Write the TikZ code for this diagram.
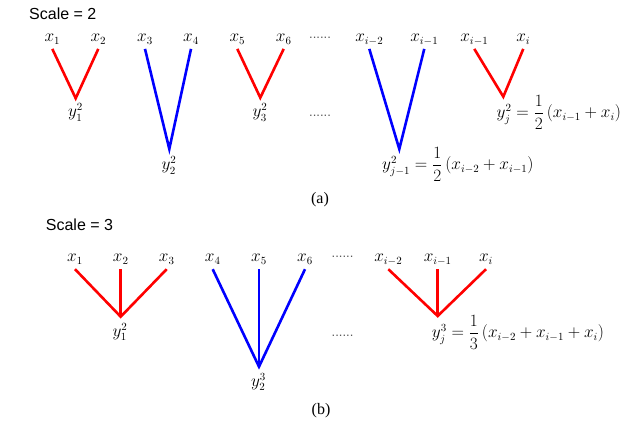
\documentclass[tikz,border=0pt]{standalone}
\usepackage{amsmath}
\usepackage{fontspec}
\setsansfont{Liberation Sans}
\newfontfamily\capfont{Liberation Serif}
\definecolor{lred}{RGB}{255,0,0}
\definecolor{lblue}{RGB}{0,0,255}
\definecolor{dotgray}{RGB}{90,90,90}
\begin{document}
\begin{tikzpicture}[x=1pt,y=-1pt,
  lab/.style={font=\fontsize{16}{19}\selectfont, inner sep=0pt, anchor=base},
  xl/.style={lab, text depth=7pt},
  yl/.style={lab},
  eql/.style={lab, anchor=base west},
  titl/.style={font=\sffamily\fontsize{16}{19}\selectfont, inner sep=0pt, anchor=base west},
  capl/.style={font=\capfont\fontsize{16}{19}\selectfont, inner sep=0pt, anchor=base},
  dotsl/.style={font=\sffamily\fontsize{13}{15}\selectfont, text=dotgray, inner sep=0pt, anchor=base west},
  redl/.style={draw=lred, line width=2.6pt},
  bluel/.style={draw=lblue, line width=2.6pt}]
\useasboundingbox[fill=white] (0,0) rectangle (633,427);

% ---------- (a) Scale = 2 ----------
\node[titl] (t1) at (29,19.3) {Scale\;=\;2};

\node[xl] (a1) at (52.3,41.7) {$x_1$};
\node[xl] (a2) at (98.3,41.7) {$x_2$};
\coordinate (va1) at (75.7,98.3);
\draw[redl] (a1.south) -- (va1) -- (a2.south);
\node[yl] (ya1) at (75.5,117) {$y_1^2$};

\node[xl] (a3) at (145,41.7) {$x_3$};
\node[xl] (a4) at (191,41.7) {$x_4$};
\coordinate (va2) at (169.3,149);
\draw[bluel] (a3.south) -- (va2) -- (a4.south);
\node[yl] (ya2) at (169,170) {$y_2^2$};

\node[xl] (a5) at (237.3,41.7) {$x_5$};
\node[xl] (a6) at (283.7,41.7) {$x_6$};
\coordinate (va3) at (260.3,97.7);
\draw[redl] (a5.south) -- (va3) -- (a6.south);
\node[yl] (ya3) at (260,117) {$y_3^2$};

\node[dotsl] (d1) at (309,39) {......};
\node[dotsl] (d2) at (309,117) {......};

\node[xl] (a7) at (369.3,41.7) {$x_{i-2}$};
\node[xl] (a8) at (424.3,41.7) {$x_{i-1}$};
\coordinate (va4) at (399.3,149);
\draw[bluel] (a7.south) -- (va4) -- (a8.south);
\node[eql] (ya4) at (382,170) {$y_{j-1}^2=\dfrac{1}{2}\,(x_{i-2}+x_{i-1})$};

\node[xl] (a9) at (474.3,41.7) {$x_{i-1}$};
\node[xl] (a10) at (523.3,41.7) {$x_i$};
\coordinate (va5) at (503.3,96.7);
\draw[redl] (a9.south) -- (va5) -- (a10.south);
\node[eql] (ya5) at (496.5,118) {$y_j^2=\dfrac{1}{2}\,(x_{i-1}+x_i)$};

\node[capl] (capa) at (320,204) {(a)};

% ---------- (b) Scale = 3 ----------
\node[titl] (t2) at (45.7,230.7) {Scale\;=\;3};

\node[xl] (b1) at (75,262) {$x_1$};
\node[xl] (b2) at (120.7,262) {$x_2$};
\node[xl] (b3) at (166.7,262) {$x_3$};
\coordinate (vb1) at (120.7,316.7);
\draw[redl] (b1.south) -- (vb1) -- (b3.south);
\draw[redl] (b2.south) -- (vb1);
\node[yl] (yb1) at (120,336.7) {$y_1^2$};

\node[xl] (b4) at (212.7,262) {$x_4$};
\node[xl] (b5) at (259,262) {$x_5$};
\node[xl] (b6) at (305,262) {$x_6$};
\coordinate (vb2) at (259,366.7);
\draw[bluel] (b4.south) -- (vb2) -- (b6.south);
\draw[bluel] (b5.south) -- (vb2);
\node[yl] (yb2) at (258.5,386.5) {$y_2^3$};

\node[dotsl] (d3) at (331.5,258) {......};
\node[dotsl] (d4) at (331.5,336.7) {......};

\node[xl] (b7) at (388.3,262) {$x_{i-2}$};
\node[xl] (b8) at (437.7,262) {$x_{i-1}$};
\node[xl] (b9) at (486,262) {$x_i$};
\coordinate (vb3) at (437.7,316);
\draw[redl] (b7.south) -- (vb3) -- (b9.south);
\draw[redl] (b8.south) -- (vb3);
\node[eql] (yb3) at (431.7,338) {$y_j^3=\dfrac{1}{3}\,(x_{i-2}+x_{i-1}+x_i)$};

\node[capl] (capb) at (321,415) {(b)};
\end{tikzpicture}
\end{document}
